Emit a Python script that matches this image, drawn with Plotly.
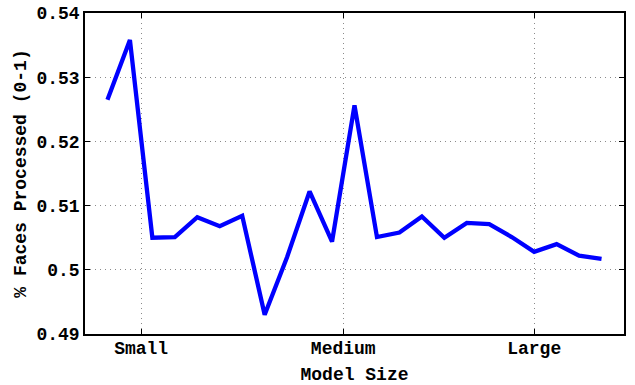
import plotly.graph_objects as go

x_index = list(range(1, 24))
faces_processed = [0.5265, 0.5358, 0.5050, 0.5051, 0.5082, 0.5068, 0.5084, 0.4930,
                   0.5020, 0.5122, 0.5044, 0.5256, 0.5051, 0.5058, 0.5083, 0.5050,
                   0.5073, 0.5071, 0.5051, 0.5028, 0.5040, 0.5022, 0.5017]
x_tick_pos = [2.5, 11.5, 20]
x_tick_labels = ["Small", "Medium", "Large"]
y_tick_vals = [0.49, 0.50, 0.51, 0.52, 0.53, 0.54]
y_tick_labels = ["0.49", "0.5", "0.51", "0.52", "0.53", "0.54"]

font_family = "Liberation Mono, Courier New, monospace"
fnt = dict(family=font_family, size=18, color="black", weight="bold")

fig = go.Figure()
fig.add_trace(go.Scatter(x=x_index, y=faces_processed, mode="lines",
                         line=dict(color="#0000ff", width=4.3), showlegend=False))

axis_common = dict(showline=True, linecolor="black", linewidth=1.5, mirror="allticks",
                   ticks="inside", ticklen=5, tickcolor="black", tickwidth=1,
                   showgrid=True, gridcolor="#8a8a8a", griddash="1px,4px", gridwidth=1,
                   zeroline=False, automargin=False, tickfont=fnt)

fig.update_xaxes(range=[0, 24], tickvals=x_tick_pos, ticktext=x_tick_labels,
                 ticklabelstandoff=-3,
                 title=dict(text="Model Size", standoff=12, font=fnt),
                 **axis_common)
fig.update_yaxes(range=[0.49, 0.54], tickvals=y_tick_vals, ticktext=y_tick_labels,
                 title=dict(text="% Faces Processed (0-1)", standoff=5, font=fnt),
                 **axis_common)

fig.update_layout(width=635, height=385, paper_bgcolor="white", plot_bgcolor="white",
                  margin=dict(l=85, r=11, t=13, b=51))

fig.write_html("out.html", config={"displayModeBar": False},
               post_script="document.body.style.margin='0';document.body.style.padding='0';")
